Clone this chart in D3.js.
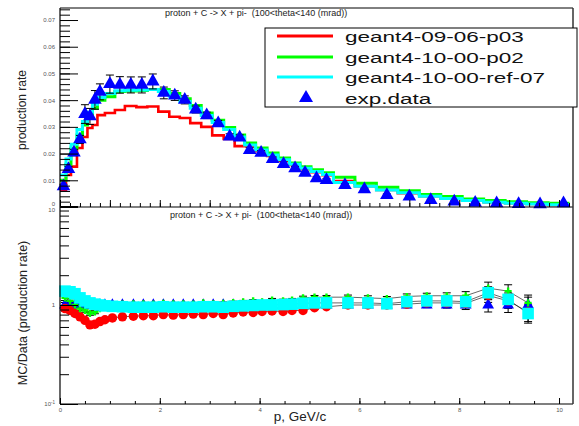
<!DOCTYPE html>
<html><head><meta charset="utf-8">
<script src="https://cdn.jsdelivr.net/npm/d3@7"></script>
<style>
body{margin:0;background:#fff}
text{font-family:"Liberation Sans",Arial,sans-serif;white-space:pre}
</style>
</head><body>
<svg id="c" width="579" height="426"></svg>
<script>
// ---------- data ----------
const binEdges = [0,0.12,0.22,0.34,0.45,0.55,0.65,0.75,0.9,1.1,1.3,1.53,1.75,1.97,2.19,2.4,2.61,2.83,3.05,3.28,3.5,3.7,3.92,4.15,4.37,4.6,4.81,5.03,5.26,5.48,5.91,6.34,6.77,7.2,7.63,8.06,8.49,8.92,9.35,9.78,10.21];
const dataP = [0.07,0.17,0.28,0.40,0.50,0.60,0.70,0.80,1.00,1.20,1.42,1.64,1.86,2.08,2.30,2.50,2.72,2.94,3.17,3.40,3.60,3.80,4.03,4.26,4.48,4.71,4.91,5.14,5.34,5.71,6.10,6.55,7.00,7.43,7.90,8.32,8.75,9.19,9.62,10.09];
const dataRate = [0.0077,0.0142,0.0204,0.0253,0.0348,0.0339,0.0401,0.0431,0.0460,0.0457,0.0457,0.0457,0.0470,0.0427,0.0417,0.0401,0.0365,0.0343,0.0313,0.0264,0.0260,0.0213,0.0203,0.0179,0.0161,0.0145,0.0128,0.0107,0.0101,0.0082,0.0066,0.0045,0.0039,0.0026,0.0020,0.0016,0.0014,0.0011,0.0010,0.0014];
const dataErr = [0.0008,0.0010,0.0012,0.0015,0.0035,0.0030,0.0035,0.0030,0.0034,0.0031,0.0030,0.0030,0.0028,0.0022,0.0018,0.0015,0.0013,0.0012,0.0011,0.0010,0.0010,0.0009,0.0008,0.0008,0.0007,0.0007,0.0006,0.0006,0.0005,0.0005,0.0004,0.0004,0.0003,0.0003,0.0003,0.0002,0.0002,0.0002,0.0002,0.0002];
const mcRed = [0.0065,0.0120,0.0151,0.0221,0.0262,0.0296,0.0307,0.0344,0.0352,0.0363,0.0378,0.0374,0.0376,0.0357,0.0338,0.0333,0.0314,0.0300,0.0268,0.0255,0.0228,0.0228,0.0209,0.0191,0.0173,0.0157,0.0142,0.0130,0.0119,0.0097,0.0078,0.0064,0.0052,0.0040,0.0031,0.0024,0.0018,0.0014,0.0011,0.0008];
const mcGreen = [0.0100,0.0160,0.0220,0.0270,0.0307,0.0340,0.0370,0.0400,0.0413,0.0432,0.0434,0.0436,0.0440,0.0440,0.0425,0.0405,0.0380,0.0352,0.0325,0.0298,0.0270,0.0240,0.0221,0.0202,0.0183,0.0165,0.0151,0.0139,0.0128,0.0111,0.0089,0.0074,0.0061,0.0047,0.0039,0.0030,0.0024,0.0020,0.0016,0.0014];
const mcCyan = [0.0120,0.0180,0.0235,0.0290,0.0320,0.0355,0.0385,0.0410,0.0425,0.0435,0.0437,0.0438,0.0440,0.0432,0.0415,0.0395,0.0370,0.0343,0.0316,0.0290,0.0262,0.0232,0.0213,0.0195,0.0177,0.0160,0.0145,0.0133,0.0122,0.0092,0.0078,0.0064,0.0053,0.0040,0.0032,0.0024,0.0018,0.0014,0.0011,0.0008];

const ratioP = [0.1,0.2,0.3,0.4,0.5,0.6,0.7,0.8,0.9,1.05,1.25,1.47,1.67,1.87,2.07,2.27,2.47,2.67,2.87,3.07,3.27,3.47,3.67,3.87,4.05,4.25,4.47,4.65,4.87,5.1,5.34,5.77,6.17,6.55,6.95,7.35,7.75,8.13,8.58,8.98,9.38];
const ratioRed = [0.92,0.88,0.82,0.76,0.70,0.63,0.64,0.68,0.71,0.74,0.76,0.77,0.78,0.78,0.80,0.79,0.80,0.81,0.80,0.82,0.80,0.83,0.85,0.84,0.86,0.87,0.86,0.88,0.88,0.94,0.96,1.00,1.00,1.00,1.02,1.05,1.05,1.04,1.25,1.10,0.85];
const ratioGreen = [1.18,1.10,1.00,0.92,0.88,0.82,0.85,0.92,0.96,1.00,1.02,1.03,1.03,1.02,1.04,1.03,1.03,1.02,1.05,1.03,1.04,1.06,1.08,1.10,1.08,1.12,1.10,1.12,1.18,1.20,1.20,1.20,1.18,1.16,1.22,1.24,1.24,1.24,1.48,1.38,1.05];
const ratioCyan = [1.38,1.36,1.30,1.18,1.10,1.05,1.02,1.00,0.98,0.97,0.96,0.95,0.95,0.95,0.96,0.95,0.95,0.95,0.96,0.96,0.95,0.97,0.98,0.99,1.00,1.00,1.01,1.02,1.04,1.05,1.05,1.05,1.05,1.03,1.08,1.10,1.10,1.08,1.33,1.14,0.82];
const ratioErr = [0.06,0.05,0.05,0.04,0.04,0.04,0.04,0.04,0.04,0.03,0.03,0.03,0.03,0.03,0.03,0.03,0.03,0.03,0.03,0.03,0.03,0.03,0.03,0.03,0.03,0.04,0.04,0.04,0.04,0.04,0.04,0.05,0.05,0.05,0.06,0.06,0.07,0.10,0.15,0.16,0.20];

const seriesNames = ["geant4-09-06-p03","geant4-10-00-p02","geant4-10-00-ref-07","exp.data"];
const seriesColors = ["#ff0000","#00ff00","#00ffff","#0000ff"];
const topTicks = [0,0.01,0.02,0.03,0.04,0.05,0.06,0.07];
const topTickLabels = ["0","0.01","0.02","0.03","0.04","0.05","0.06","0.07"];
const xTicks = [0,2,4,6,8,10];
const xTickLabels = ["0","2","4","6","8","10"];
const ratioTicks = [0.1,1,10];
const ratioMinor = [0.2,0.3,0.4,0.5,0.6,0.7,0.8,0.9,2,3,4,5,6,7,8,9];
const titleText = "proton + C -> X + pi-  (100<theta<140 (mrad))";
const xTitle = "p, GeV/c";
const yTopTitle = "production rate";
const yBotTitle = "MC/Data (production rate)";

// ---------- layout ----------
const L = 60, R = 573, T = 8, MID = 207, B = 404;
const svg = d3.select("#c");
const x = d3.scaleLinear().domain([0, 10.28]).range([L, R]);
const yTop = d3.scaleLinear().domain([0, 0.0745]).range([MID, T]);
const yBot = d3.scaleLog().domain([0.1, 10]).range([B, MID - 1]);

function styleAxis(g) {
  g.select(".domain").remove();
  g.selectAll("line").attr("stroke", "#000").attr("stroke-width", 1);
  g.selectAll("text").attr("font-size", 6).attr("fill", "#555")
    .attr("font-family", "'Liberation Sans',Arial,sans-serif");
}

// ---------- top panel ----------
const hist = d3.line().x(d => x(d[0])).y(d => yTop(d[1])).curve(d3.curveStepAfter);
function histPts(vals) {
  const pts = vals.map((v, i) => [binEdges[i], v]);
  pts.push([binEdges[vals.length], vals[vals.length - 1]]);
  return pts;
}
[[mcRed, 0, 2.6], [mcGreen, 1, 3], [mcCyan, 2, 3]].forEach(([vals, ci, w]) => {
  svg.append("path").attr("d", hist(histPts(vals))).attr("fill", "none")
    .attr("stroke", seriesColors[ci]).attr("stroke-width", w);
});

// error bars for data
const eb = svg.append("g").attr("stroke", "#000").attr("stroke-width", 1);
dataP.forEach((p, i) => {
  const cx = x(p), y1 = yTop(dataRate[i] + dataErr[i]), y2 = yTop(dataRate[i] - dataErr[i]);
  eb.append("line").attr("x1", cx).attr("x2", cx).attr("y1", y1).attr("y2", y2);
  eb.append("line").attr("x1", cx - 4).attr("x2", cx + 4).attr("y1", y1).attr("y2", y1);
  eb.append("line").attr("x1", cx - 4).attr("x2", cx + 4).attr("y1", y2).attr("y2", y2);
});
const tri = d3.symbol(d3.symbolTriangle, 80);
svg.append("g").selectAll("path").data(dataP).join("path")
  .attr("d", tri).attr("fill", seriesColors[3])
  .attr("transform", (p, i) => `translate(${x(p)},${yTop(dataRate[i])})`);

// top axes
styleAxis(svg.append("g").attr("transform", `translate(${L},0)`)
  .call(d3.axisLeft(yTop).tickValues(d3.range(0, 0.0745, 0.002)).tickSize(-10).tickSizeOuter(0).tickFormat("")));
const gTopY = svg.append("g").attr("transform", `translate(${L},0)`)
  .call(d3.axisLeft(yTop).tickValues(topTicks).tickSize(-18).tickSizeOuter(0).tickPadding(5)
    .tickFormat((d, i) => topTickLabels[i]));
styleAxis(gTopY);
gTopY.selectAll(".tick").filter(d => d === 0).select("text").attr("dy", "-0.25em");
styleAxis(svg.append("g").attr("transform", `translate(0,${MID})`)
  .call(d3.axisBottom(x).tickValues(d3.range(0, 10.21, 0.2)).tickSize(-4).tickSizeOuter(0).tickFormat("")));
styleAxis(svg.append("g").attr("transform", `translate(0,${MID})`)
  .call(d3.axisBottom(x).tickValues(d3.range(0, 11, 1)).tickSize(-7).tickSizeOuter(0).tickFormat("")));

// ---------- bottom panel ----------
const rx = d => x(d);
const seriesR = [[ratioRed, 0], [ratioGreen, 1], [ratioCyan, 2]];
const lineR = d3.line();
seriesR.forEach(([vals]) => {
  svg.append("path").attr("d", lineR(ratioP.map((p, i) => [rx(p), yBot(vals[i])])))
    .attr("fill", "none").attr("stroke", "#000").attr("stroke-width", 0.6);
});
const eb2 = svg.append("g").attr("stroke", "#000").attr("stroke-width", 1);
function ratioBar(cx, v, e) {
  const y1 = yBot(v * (1 + e)), y2 = yBot(v * (1 - e));
  eb2.append("line").attr("x1", cx).attr("x2", cx).attr("y1", y1).attr("y2", y2);
  eb2.append("line").attr("x1", cx - 4).attr("x2", cx + 4).attr("y1", y1).attr("y2", y1);
  eb2.append("line").attr("x1", cx - 4).attr("x2", cx + 4).attr("y1", y2).attr("y2", y2);
}
ratioP.forEach((p, i) => {
  ratioBar(rx(p), 1, ratioErr[i]);
  seriesR.forEach(([vals]) => ratioBar(rx(p), vals[i], ratioErr[i]));
});
svg.append("g").selectAll("path").data(ratioP).join("path")
  .attr("d", d3.symbol(d3.symbolTriangle, 60)).attr("fill", seriesColors[3])
  .attr("transform", p => `translate(${rx(p)},${yBot(1)})`);
const markerSyms = [d3.symbol(d3.symbolCircle, 70), d3.symbol(d3.symbolCross, 28), d3.symbol(d3.symbolSquare, 135)];
seriesR.forEach(([vals, ci]) => {
  svg.append("g").selectAll("path").data(ratioP).join("path")
    .attr("d", markerSyms[ci]).attr("fill", seriesColors[ci])
    .attr("transform", (p, i) => `translate(${rx(p)},${yBot(vals[i])})`);
});

// bottom axes
styleAxis(svg.append("g").attr("transform", `translate(${L},0)`)
  .call(d3.axisLeft(yBot).tickValues(ratioMinor).tickSize(-9).tickSizeOuter(0).tickFormat("")));
const gLog = svg.append("g").attr("transform", `translate(${L},0)`)
  .call(d3.axisLeft(yBot).tickValues(ratioTicks).tickSize(-18).tickSizeOuter(0).tickPadding(5)
    .tickFormat(d => d === 0.1 ? "" : (d === 1 ? "1" : "10")));
styleAxis(gLog);
gLog.selectAll(".tick").filter(d => d === 10).select("text").attr("dy", "0.95em");
gLog.selectAll(".tick").filter(d => d === 0.1).select("text")
  .call(t => { t.append("tspan").text("10"); t.append("tspan").attr("dy", -2).attr("font-size", 4.5).text("-1"); });
styleAxis(svg.append("g").attr("transform", `translate(0,${B})`)
  .call(d3.axisBottom(x).tickValues(d3.range(0, 10.21, 0.5)).tickSize(-3).tickSizeOuter(0).tickFormat("")));
styleAxis(svg.append("g").attr("transform", `translate(0,${B})`)
  .call(d3.axisBottom(x).tickValues(xTicks).tickSize(-6).tickSizeOuter(0).tickPadding(4)
    .tickFormat((d, i) => xTickLabels[i])));

// frame
const fr = svg.append("g").attr("stroke", "#000").attr("fill", "none");
fr.append("line").attr("x1", L).attr("x2", L).attr("y1", T).attr("y2", B).attr("stroke-width", 1.2);
fr.append("line").attr("x1", L).attr("x2", R).attr("y1", T).attr("y2", T);
fr.append("line").attr("x1", L).attr("x2", R).attr("y1", MID).attr("y2", MID).attr("stroke-width", 1.2);
fr.append("line").attr("x1", L).attr("x2", R).attr("y1", B).attr("y2", B).attr("stroke-width", 1.2);
fr.append("line").attr("x1", R).attr("x2", R).attr("y1", T).attr("y2", B).attr("stroke-width", 1.5).attr("stroke", "#333");

// panel titles
svg.append("text").attr("x", 165).attr("y", 16).attr("font-size", 9).attr("fill", "#222").text(titleText);
svg.append("text").attr("x", 170).attr("y", 218).attr("font-size", 9).attr("fill", "#222").text(titleText);

// axis titles
svg.append("text").attr("transform", "translate(26,110) rotate(-90)").attr("text-anchor", "middle")
  .attr("font-size", 12).attr("fill", "#222").text(yTopTitle);
svg.append("text").attr("transform", "translate(27,313) rotate(-90)").attr("text-anchor", "middle")
  .attr("font-size", 12.5).attr("fill", "#222").text(yBotTitle);
svg.append("text").attr("x", 300).attr("y", 421).attr("text-anchor", "middle")
  .attr("font-size", 13.5).attr("fill", "#222").text(xTitle);

// legend
const lg = svg.append("g");
lg.append("rect").attr("x", 265).attr("y", 28).attr("width", 312).attr("height", 79)
  .attr("fill", "#fff").attr("stroke", "#000").attr("stroke-width", 1);
const rowY = [36, 57, 77, 98];
seriesNames.forEach((name, i) => {
  if (i < 3) {
    lg.append("line").attr("x1", 277).attr("x2", 333).attr("y1", rowY[i]).attr("y2", rowY[i])
      .attr("stroke", seriesColors[i]).attr("stroke-width", 3);
  } else {
    lg.append("path").attr("d", d3.symbol(d3.symbolTriangle, 85)).attr("fill", seriesColors[3])
      .attr("transform", `translate(306,${rowY[i]})`);
  }
  lg.append("text").attr("transform", `translate(345,${rowY[i] + 5.5}) scale(1.5,1)`)
    .attr("font-size", 15).attr("fill", "#111").text(name);
});
</script>
</body></html>
